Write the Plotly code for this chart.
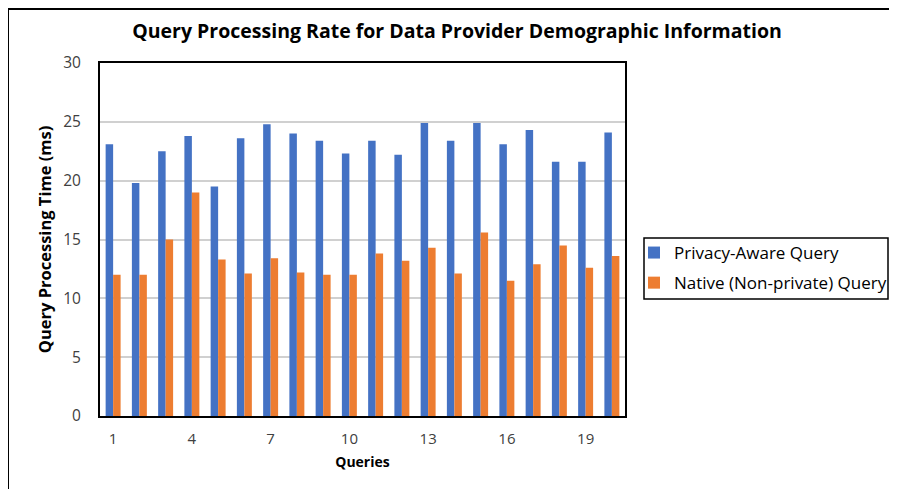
import plotly.graph_objects as go

queries = list(range(1, 21))
privacy_aware = [23.1, 19.8, 22.5, 23.8, 19.5, 23.6, 24.8, 24.0, 23.4, 22.3,
                 23.4, 22.2, 24.9, 23.4, 24.9, 23.1, 24.3, 21.6, 21.6, 24.1]
native = [12.0, 12.0, 15.0, 19.0, 13.3, 12.1, 13.4, 12.2, 12.0, 12.0,
          13.8, 13.2, 14.3, 12.1, 15.6, 11.5, 12.9, 14.5, 12.6, 13.6]
x_ticks = [1, 4, 7, 10, 13, 16, 19]
y_ticks = [0, 5, 10, 15, 20, 25, 30]

FONT = "Open Sans"
W, H = 897, 489
ML, MR, MT, MB = 92, 280, 55, 81
PW, PH = W - ML - MR, H - MT - MB


def px_x(px):  # page x (reference) -> paper
    return (px - 100) / PW


def px_y(py):  # page y (reference) -> paper
    return (416 - py) / PH


fig = go.Figure()
fig.add_trace(go.Bar(x=queries, y=privacy_aware, name="Privacy-Aware Query",
                     legendgroup="a",
                     marker=dict(color="#4472C4", line=dict(width=0))))
fig.add_trace(go.Bar(x=queries, y=native, name="Native (Non-private) Query",
                     legendgroup="b",
                     marker=dict(color="#ED7D31", line=dict(width=0))))

fig.update_layout(
    width=W, height=H,
    margin=dict(l=ML, r=MR, t=MT, b=MB),
    paper_bgcolor="white", plot_bgcolor="white",
    barmode="group", bargap=0.43, bargroupgap=0,
    font=dict(family=FONT, size=15, color="#595959"),
    title=dict(text="<b>Query Processing Rate for Data Provider Demographic Information</b>",
               x=449 / W, xanchor="center", y=1 - 23 / H, yanchor="middle",
               font=dict(family=FONT, size=19.5, color="black")),
    xaxis=dict(range=[0.5, 20.5], tickvals=x_ticks, ticktext=[str(v) for v in x_ticks],
               showgrid=False, zeroline=False, showline=True, linecolor="black",
               linewidth=2, mirror=True, ticks="", ticklabelstandoff=8,
               tickfont=dict(size=15, color="#404040"),
               title=dict(text="<b>Queries</b>", standoff=10,
                          font=dict(family=FONT, size=14, color="black"))),
    yaxis=dict(range=[0, 30], tickvals=y_ticks, showgrid=True, gridcolor="#D0D0D0",
               gridwidth=1.5, zeroline=False, showline=True, linecolor="black",
               linewidth=2, mirror=True, ticks="", ticklabelstandoff=14,
               tickfont=dict(size=15.5, color="#404040"),
               title=dict(text="<b>Query Processing Time (ms)</b>", standoff=7,
                          font=dict(family=FONT, size=16.5, color="black"))),
    legend=dict(x=px_x(634), y=px_y(235), xanchor="left", yanchor="top",
                borderwidth=0, bgcolor="rgba(0,0,0,0)",
                font=dict(family=FONT, size=17, color="black"),
                tracegroupgap=5, itemwidth=30, traceorder="grouped"),
    showlegend=True,
)

# legend frame
fig.add_shape(type="rect", xref="paper", yref="paper",
              x0=px_x(644), x1=px_x(888), y0=px_y(238), y1=px_y(299),
              line=dict(color="black", width=1.5))

# outer chart border (left and top edges visible)
x_left = (0 - ML) / PW
y_top = (MT + PH - 1) / PH
fig.add_shape(type="line", xref="paper", yref="paper",
              x0=x_left, x1=x_left, y0=y_top, y1=(MT + PH - H - 5) / PH,
              line=dict(color="black", width=2))
fig.add_shape(type="line", xref="paper", yref="paper",
              x0=x_left, x1=(W + 5 - ML) / PW, y0=y_top, y1=y_top,
              line=dict(color="black", width=2))

fig.write_html("out.html")
